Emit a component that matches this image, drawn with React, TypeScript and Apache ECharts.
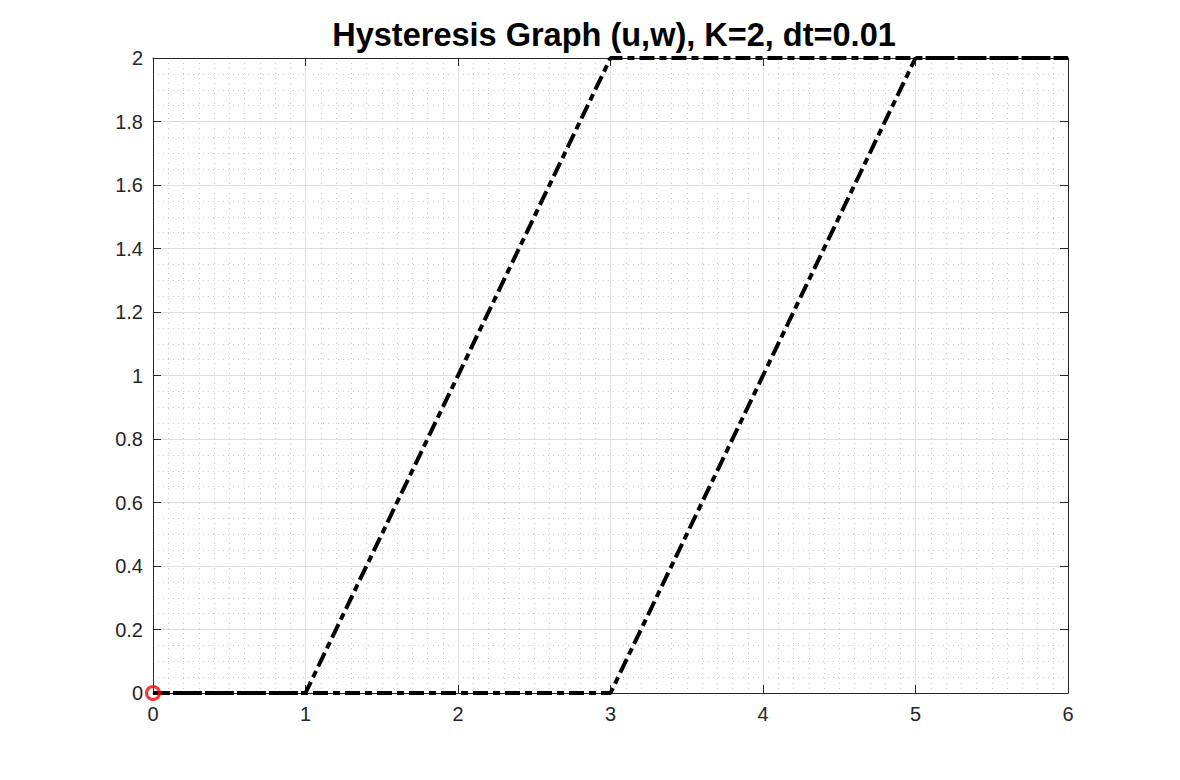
import React, { useEffect, useRef } from "react";
import * as echarts from "echarts";

const titleText = "Hysteresis Graph (u,w), K=2, dt=0.01";
const loopU = [0, 3, 5, 6, 3, 1, 0];
const loopW = [0, 0, 2, 2, 2, 0, 0];
const startPoint = [0, 0];
const xTicks = [0, 1, 2, 3, 4, 5, 6];
const yTicks = [0, 0.2, 0.4, 0.6, 0.8, 1, 1.2, 1.4, 1.6, 1.8, 2];

export default function App() {
  const ref = useRef<HTMLDivElement>(null);
  useEffect(() => {
    if (!ref.current) return;
    const chart = echarts.init(ref.current, null, { renderer: "svg" });
    const axisColor = "#262626";
    const font = "'Liberation Sans', Arial, Helvetica, sans-serif";
    const common = {
      axisLine: { show: true, onZero: false, lineStyle: { color: axisColor, width: 1 } },
      axisTick: { show: true, inside: true, length: 8, lineStyle: { color: axisColor } },
      minorTick: { show: false },
    };
    chart.setOption({
      animation: false,
      backgroundColor: "#ffffff",
      title: {
        text: titleText,
        left: 609,
        textAlign: "center",
        top: 13,
        textStyle: { fontFamily: font, fontSize: 32.5, fontWeight: "bold", color: "#000" },
      },
      grid: { left: 153, right: 112, top: 58, bottom: 87, containLabel: false },
      xAxis: [
        {
          type: "value",
          min: xTicks[0],
          max: xTicks[xTicks.length - 1],
          interval: 1,
          position: "bottom",
          ...common,
          minorTick: { show: false, splitNumber: 10 },
          axisLabel: { color: axisColor, fontSize: 20, fontFamily: font, margin: 11 },
          splitLine: { show: true, lineStyle: { color: "#dfdfdf", width: 1 } },
          minorSplitLine: { show: true, lineStyle: { color: "#cccccc", width: 1, type: [1, 4] } },
        },
        {
          type: "value",
          min: xTicks[0],
          max: xTicks[xTicks.length - 1],
          interval: 1,
          position: "top",
          ...common,
          axisLabel: { show: false },
          splitLine: { show: false },
        },
      ],
      yAxis: [
        {
          type: "value",
          min: yTicks[0],
          max: yTicks[yTicks.length - 1],
          interval: 0.2,
          position: "left",
          ...common,
          minorTick: { show: false, splitNumber: 4 },
          axisLabel: { color: axisColor, fontSize: 20, fontFamily: font, margin: 10 },
          splitLine: { show: true, lineStyle: { color: "#dfdfdf", width: 1 } },
          minorSplitLine: { show: true, lineStyle: { color: "#cccccc", width: 1, type: [1, 4] } },
        },
        {
          type: "value",
          min: yTicks[0],
          max: yTicks[yTicks.length - 1],
          interval: 0.2,
          position: "right",
          ...common,
          axisLabel: { show: false },
          splitLine: { show: false },
        },
      ],
      series: [
        {
          type: "line",
          data: loopU.map((u, i) => [u, loopW[i]]),
          showSymbol: false,
          symbol: "none",
          lineStyle: { color: "#000", width: 4, type: [15, 5, 7, 5] },
          z: 3,
        },
        {
          type: "scatter",
          data: [startPoint],
          symbol: "circle",
          symbolSize: 13,
          itemStyle: { color: "rgba(0,0,0,0)", borderColor: "#ff0000", borderWidth: 3 },
          z: 4,
        },
      ],
    });
    return () => chart.dispose();
  }, []);
  return (
    <div
      ref={ref}
      style={{ position: "fixed", left: 0, top: 0, width: 1180, height: 780, background: "#fff" }}
    />
  );
}
